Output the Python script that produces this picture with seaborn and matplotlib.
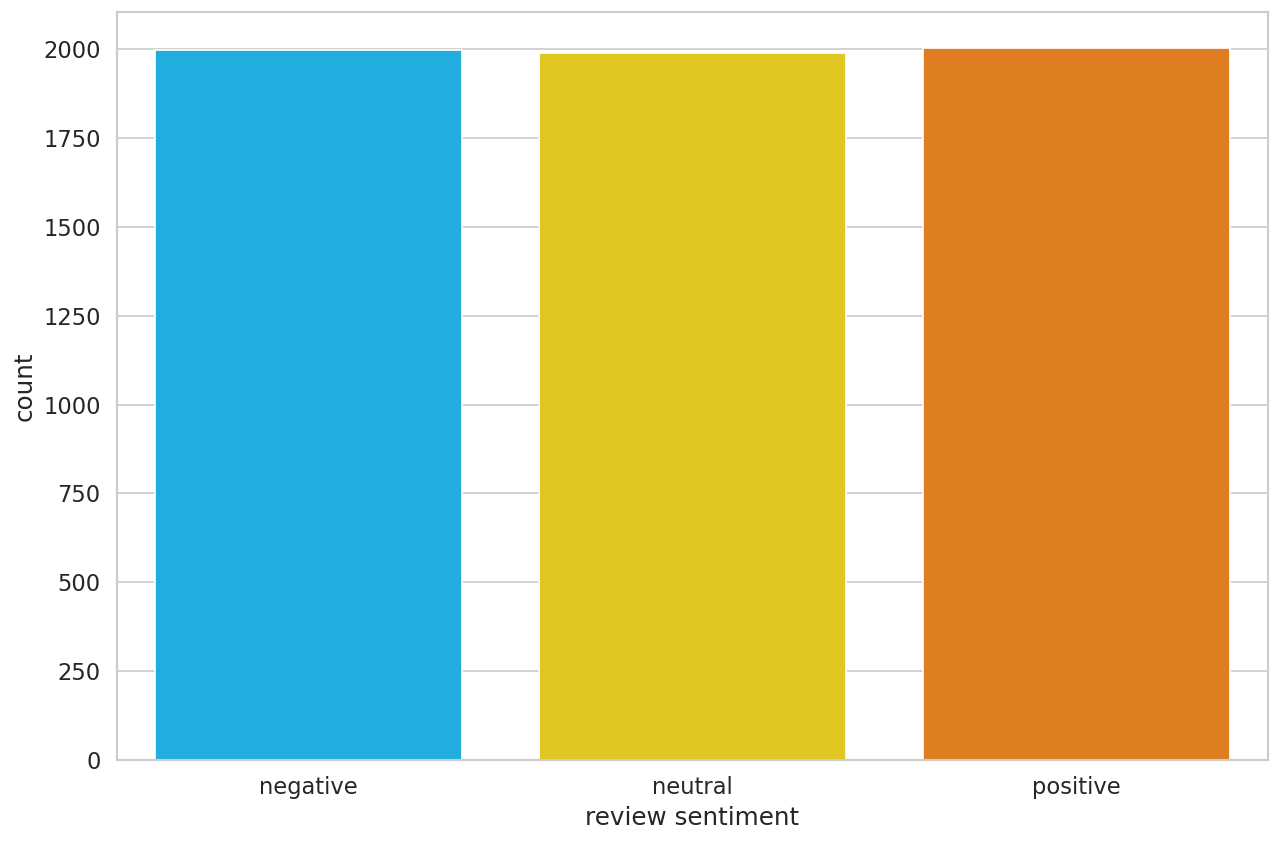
import matplotlib
matplotlib.use("Agg")
import matplotlib.pyplot as plt
import seaborn as sns
import pandas as pd

categories = ["negative", "neutral", "positive"]
counts = [1997, 1989, 2004]
colors = ["#01BEFE", "#FFDD00", "#FF7D00"]

sns.set_theme(style="whitegrid", font_scale=1.2)

df = pd.DataFrame({"review sentiment": categories, "count": counts})

DPI = 123.5
fig = plt.figure(figsize=(1280/DPI, 841/DPI), dpi=DPI)
ax = fig.add_axes([117/1280, 81/841, 1151/1280, 748/841])
sns.barplot(data=df, x="review sentiment", y="count", hue="review sentiment",
            palette=colors, legend=False, ax=ax, saturation=0.75)
ax.set_yticks([0, 250, 500, 750, 1000, 1250, 1500, 1750, 2000])
fig.savefig("out.png", dpi=DPI)
